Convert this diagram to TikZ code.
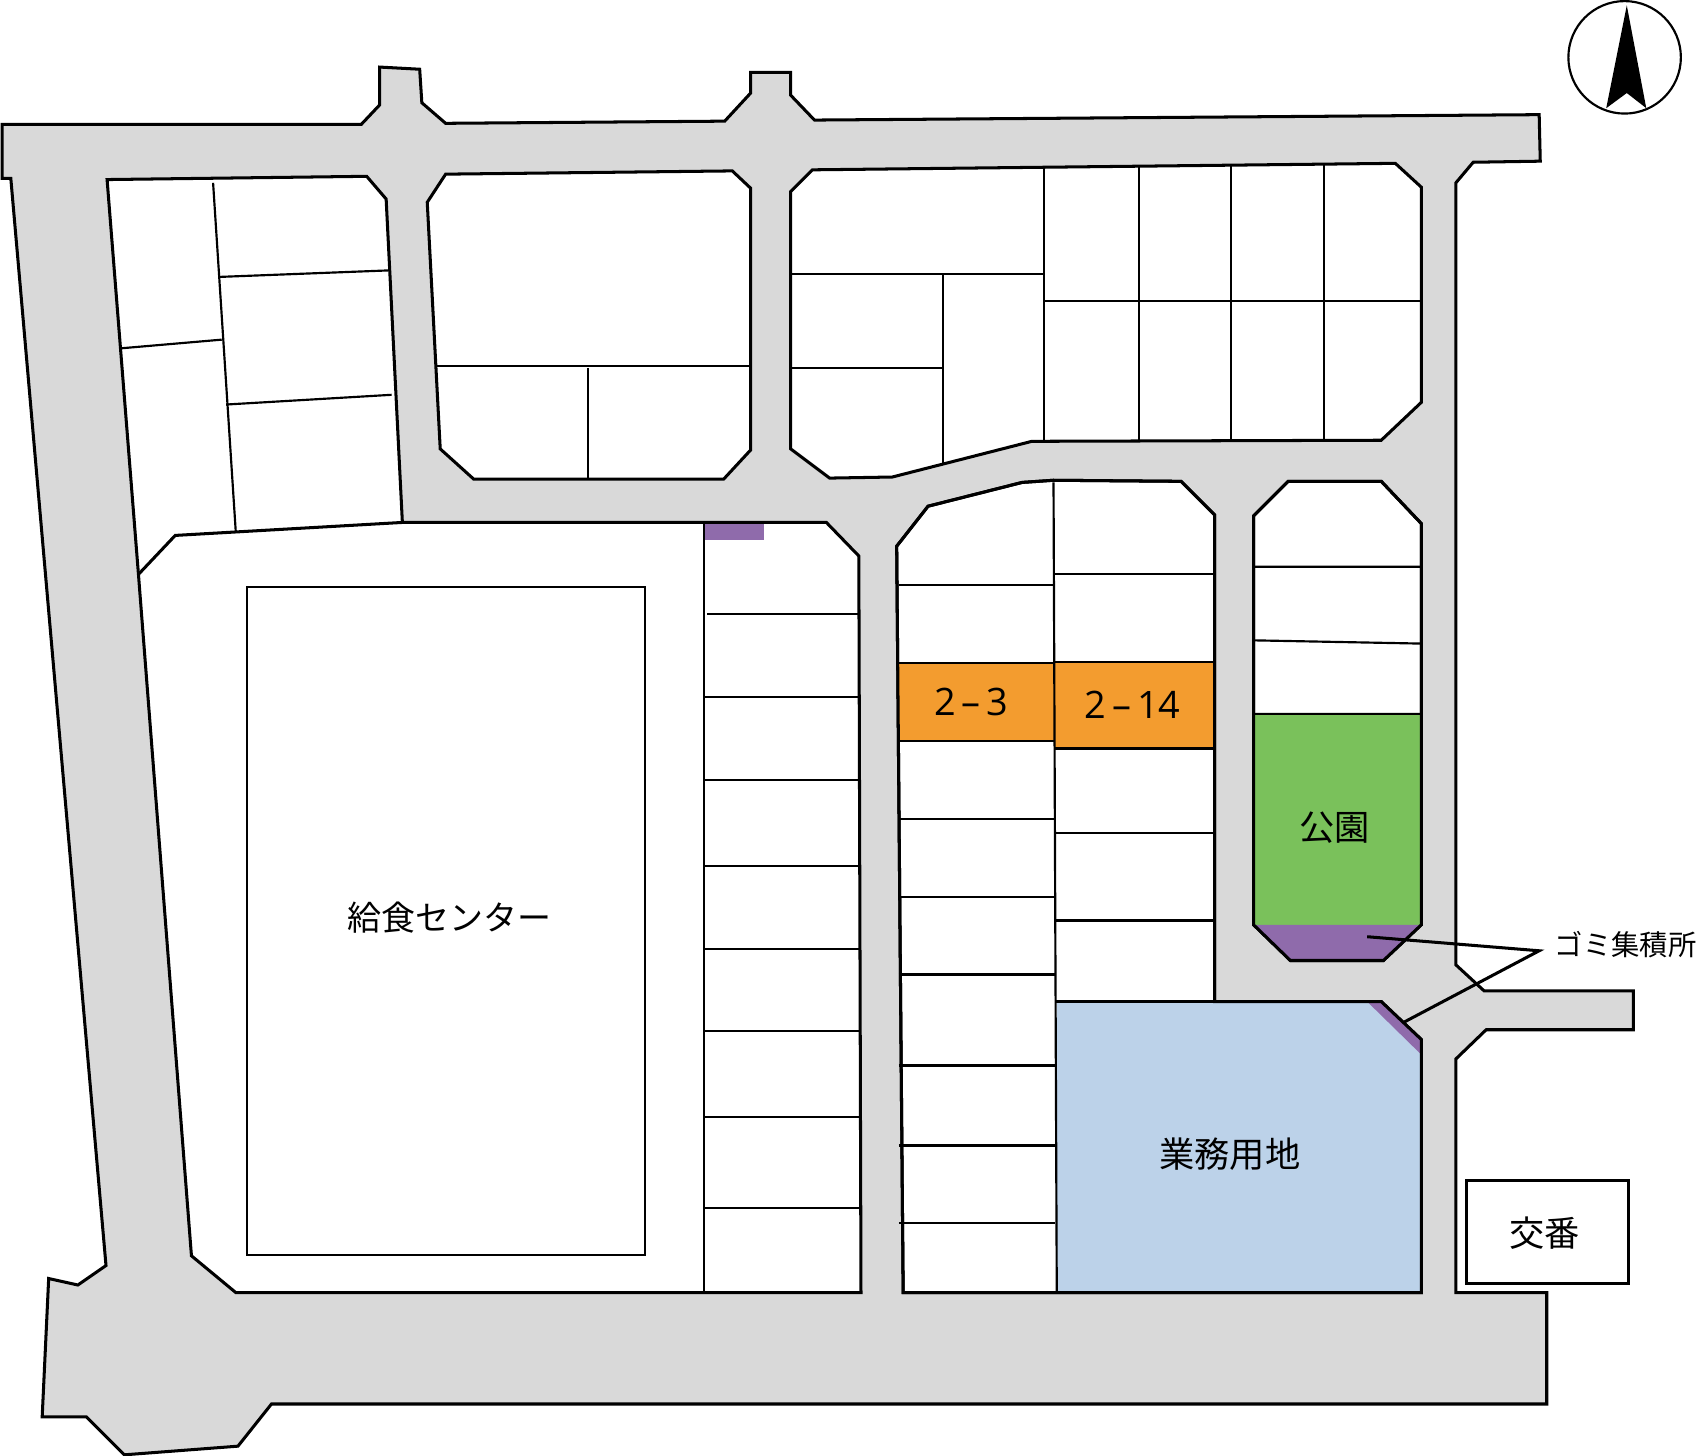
\documentclass[tikz,border=0pt]{standalone}
\usepackage{fontspec}
\setmainfont{Noto Sans CJK JP}
\newfontfamily\numfont{Open Sans}
\definecolor{road}{HTML}{D9D9D9}
\definecolor{lotorange}{HTML}{F39C2F}
\definecolor{parkgreen}{HTML}{7AC15B}
\definecolor{bizblue}{HTML}{BCD2E9}
\definecolor{trash}{HTML}{8F6BAB}
\tikzset{
  outline/.style={draw=black,line width=1.4pt,line join=miter},
  lot/.style={draw=black,line width=1pt},
  label/.style={inner sep=0pt,font=\fontsize{16.3}{18}\selectfont},
  numlabel/.style={inner sep=0pt,font=\numfont\fontsize{17.5}{20}\selectfont},
}
\begin{document}
\begin{tikzpicture}[x=0.5pt,y=-0.5pt]
\useasboundingbox (0,0) rectangle (1568,1346);
% roads
\draw[outline,fill=road] (2,115)--(334,115)--(351,97)--(351,62)--(388,64)--(390,95)--(412,114)--(670,112)--(694,86)--(694,67)--(731,67)--(731,88)--(753,111)--(1423,106)--(1424,149)--(1362,150)--(1346,169)--(1346,892)--(1372,916)--(1510,916)--(1510,952)--(1374,952)--(1346,979)--(1346,1195)--(1430,1195)--(1430,1298)--(251,1298)--(220,1337)--(115,1345)--(80,1310)--(39,1310)--(45,1182)--(72,1188)--(98,1170)--(10,165)--(2,165)--cycle;
% west block
\draw[outline,fill=white] (99,166)--(339,163)--(357,184)--(372,483)--(764,483)--(794,514)--(796,1195)--(218,1195)--(177,1161)--(128,531)--cycle;
\fill[trash] (651,484)rectangle(706,499);
\draw[outline] (128,531)--(162,495)--(372,483);
\draw[lot] (197,169)--(218,492) (203,256)--(359,250) (112,322)--(205,314) (209,374)--(362,365);
\draw[lot] (228,543) rectangle (596,1160);
\draw[lot] (651,483)--(651,1195);
\foreach \yy/\xx in {568/654,644/651,721/651,801/651,877/651,953/651,1033/651,1117/651}
  \draw[lot] (\xx,\yy)--(794,\yy);
% north middle block
\draw[outline,fill=white] (395,187)--(412,161)--(677,158)--(694,174)--(694,416)--(669,443)--(438,443)--(407,415)--cycle;
\draw[lot] (404,338)--(694,338) (544,340)--(544,443);
% north east block
\draw[outline,fill=white] (731,177)--(751,157)--(1290,151)--(1314,173)--(1314,372)--(1277,407)--(954,408)--(825,441)--(767,442)--(731,415)--cycle;
\draw[lot] (965,155)--(965,407) (1053,153)--(1053,407) (1138,153)--(1138,407) (1224,152)--(1224,407)
  (731,253)--(966,253) (966,278)--(1314,278) (872,253)--(872,430) (731,340)--(872,340);
% centre block
\draw[outline,fill=white] (829,505)--(858,468)--(945,446)--(974,444)--(1092,445)--(1123,476)--(1123,926)--(1277,926)--(1314,961)--(1314,1195)--(835,1195)--cycle;
\fill[lotorange] (831,613) rectangle (974,685);
\fill[lotorange] (975,612) rectangle (1123,692);
\fill[bizblue] (977,926)--(1277,926)--(1314,961)--(1314,1195)--(977,1195)--cycle;
\fill[trash] (1264,926)--(1277,926)--(1314,961)--(1314,975)--cycle;
\draw[outline] (829,505)--(858,468)--(945,446)--(974,444)--(1092,445)--(1123,476)--(1123,926)--(1277,926)--(1314,961)--(1314,1195)--(835,1195)--cycle;
\draw[lot] (974,446)--(977,1195);
\foreach \yy in {541,613,685,757,829,901,985,1059,1131}
  \draw[lot] (831,\yy)--(975,\yy);
\foreach \yy in {531,612,692,770,851}
  \draw[lot] (975,\yy)--(1123,\yy);
\draw[outline] (976,926)--(1123,926);
% east block
\draw[outline,fill=white] (1159,477)--(1191,445)--(1277,445)--(1314,484)--(1314,855)--(1279,888)--(1193,888)--(1159,855)--cycle;
\fill[parkgreen] (1160,660) rectangle (1314,855);
\fill[trash] (1160,855)--(1314,855)--(1279,888)--(1193,888)--cycle;
\draw[outline] (1159,477)--(1191,445)--(1277,445)--(1314,484)--(1314,855)--(1279,888)--(1193,888)--(1159,855)--cycle;
\draw[lot] (1159,524)--(1314,524) (1159,592)--(1314,595) (1159,660)--(1314,660);
% police box
\node[outline,fill=white,minimum width=75pt,minimum height=48pt,inner sep=0pt] (koban) at (1431,1139) {};
\node[label] (kobantext) at (1428,1140) {交番};
% labels
\node[label,font=\fontsize{15.7}{18}\selectfont] (center) at (415.5,848) {給食センター};
\node[numlabel] (lotA) at (898,649) {2\kern0.16em–\kern0.16em3};
\node[numlabel] (lotB) at (1047,652) {2\kern0.16em–\kern0.16em14};
\node[label] (park) at (1234,765) {公園};
\node[label] (biz) at (1137,1067) {業務用地};
\node[inner sep=0pt,font=\fontsize{13.1}{15}\selectfont,anchor=west] (gomi) at (1437,873) {ゴミ集積所};
% leader
\coordinate (ga) at (1264,866);
\coordinate (gb) at (1423,879);
\coordinate (gc) at (1298,945);
\draw[outline] (ga)--(gb)--(gc);
% north mark
\node[circle,draw=black,line width=1pt,minimum size=52pt,inner sep=0pt] (north) at (1502,53) {};
\fill[black] (1504,5)--(1522,100)--(1504,86)--(1485,100)--cycle;
\end{tikzpicture}
\end{document}
